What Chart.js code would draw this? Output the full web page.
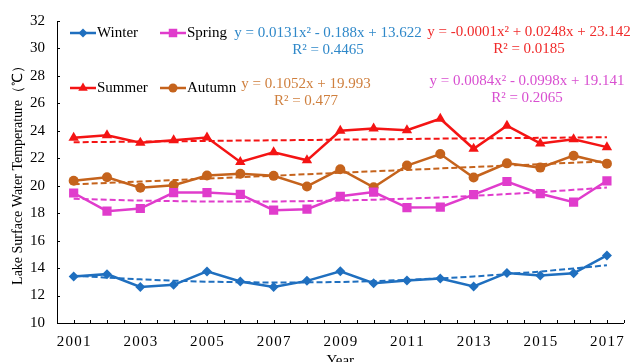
<!DOCTYPE html>
<html lang="en">
<head>
<meta charset="UTF-8">
<title>Lake Surface Water Temperature</title>
<script src="https://cdn.jsdelivr.net/npm/chart.js"></script>
<style>
  html, body { margin: 0; padding: 0; background: #fff; }
  #wrap { position: relative; width: 634px; height: 362px; }
</style>
</head>
<body>
<div id="wrap"><canvas id="tempChart"></canvas></div>
<script>
// data
const years = ['2001','2002','2003','2004','2005','2006','2007','2008','2009',
               '2010','2011','2012','2013','2014','2015','2016','2017'];
const winter = [13.39, 13.56, 12.63, 12.78, 13.76, 13.02, 12.62, 13.07, 13.77,
                12.90, 13.10, 13.24, 12.66, 13.65, 13.46, 13.62, 14.92];
const spring = [19.47, 18.15, 18.34, 19.50, 19.50, 19.37, 18.22, 18.29, 19.23,
                19.54, 18.41, 18.44, 19.35, 20.31, 19.42, 18.80, 20.36];
const summer = [23.49, 23.68, 23.13, 23.32, 23.51, 21.73, 22.43, 21.85, 24.00,
                24.16, 24.05, 24.88, 22.69, 24.37, 23.08, 23.39, 22.81];
const autumn = [20.36, 20.62, 19.86, 20.04, 20.74, 20.87, 20.72, 19.95, 21.20,
                19.88, 21.47, 22.31, 20.60, 21.63, 21.32, 22.19, 21.61];

// dashed trend lines as they appear in the figure
const winterTrend = [13.45, 13.30, 13.18, 13.08, 13.01, 12.97, 12.95, 12.96, 12.99,
                     13.05, 13.14, 13.25, 13.39, 13.56, 13.75, 13.97, 14.21];
const springTrend = [19.05, 18.98, 18.92, 18.88, 18.85, 18.85, 18.85, 18.88, 18.92,
                     18.98, 19.06, 19.15, 19.26, 19.39, 19.53, 19.70, 19.87];
const summerTrend = [23.17, 23.19, 23.22, 23.24, 23.26, 23.29, 23.31, 23.33, 23.36,
                     23.38, 23.40, 23.43, 23.45, 23.47, 23.49, 23.51, 23.54];
const autumnTrend = [20.10, 20.20, 20.31, 20.41, 20.52, 20.62, 20.73, 20.84, 20.94,
                     21.05, 21.15, 21.26, 21.36, 21.47, 21.57, 21.68, 21.78];

const seriesNames = ['Winter', 'Spring', 'Summer', 'Autumn'];
const equations = ['y = 0.0131x² - 0.188x + 13.622', 'y = 0.0084x² - 0.0998x + 19.141',
                   'y = -0.0001x² + 0.0248x + 23.142', 'y = 0.1052x + 19.993'];
const rSquared = ['R² = 0.4465', 'R² = 0.2065', 'R² = 0.0185', 'R² = 0.477'];

const SERIF = "'Liberation Serif', 'Times New Roman', serif";
const colors = ['#1f6fbf', '#e03ccc', '#f41414', '#c5631c'];
const eqColors = ['#2f88c9', '#d84fd0', '#f02a2a', '#cf7f3d'];
const markers = [
  { style: 'rectRot', r: 5 },
  { style: 'rect', r: 6.5 },
  { style: 'triangle', r: 6 },
  { style: 'circle', r: 5 }
];

const values = [winter, spring, summer, autumn];
const trends = [winterTrend, springTrend, summerTrend, autumnTrend];

const datasets = [];
values.forEach((v, i) => {
  datasets.push({
    label: seriesNames[i],
    data: v,
    borderColor: colors[i],
    backgroundColor: colors[i],
    borderWidth: 2.5,
    pointStyle: markers[i].style,
    pointRadius: markers[i].r,
    pointBorderWidth: 0,
    order: 1
  });
});
trends.forEach((v, i) => {
  datasets.push({
    label: seriesNames[i] + ' trend',
    data: v,
    borderColor: colors[i],
    borderWidth: 2,
    borderDash: [6, 3],
    pointRadius: 0,
    order: 2
  });
});

// small inward ticks on both axes
const tickMarks = {
  id: 'tickMarks',
  afterDraw(chart) {
    const { ctx } = chart;
    const x = chart.scales.x, y = chart.scales.y;
    ctx.save();
    ctx.strokeStyle = '#000';
    ctx.lineWidth = 1;
    ctx.beginPath();
    y.ticks.forEach(t => {
      const py = Math.round(y.getPixelForValue(t.value)) + 0.5;
      ctx.moveTo(y.right, py);
      ctx.lineTo(y.right + 3, py);
    });
    for (let i = -0.5; i <= years.length - 0.5; i += 0.5) {
      const px = Math.round(x.getPixelForValue(i)) + 0.5;
      ctx.moveTo(px, x.top);
      ctx.lineTo(px, x.top - 3);
    }
    ctx.stroke();
    ctx.restore();
  }
};

// legend in two rows and the fitted equations
const legendSpots = [{ x: 70, y: 33 }, { x: 160, y: 33 }, { x: 70, y: 88 }, { x: 160, y: 88 }];
const eqSpots = [{ x: 328, y: 33 }, { x: 527, y: 81 }, { x: 529, y: 32 }, { x: 306, y: 84 }];

const annotations = {
  id: 'annotations',
  afterDraw(chart) {
    const { ctx } = chart;
    ctx.save();
    ctx.font = '15px ' + SERIF;
    ctx.textBaseline = 'middle';
    seriesNames.forEach((name, i) => {
      const s = legendSpots[i];
      ctx.strokeStyle = colors[i];
      ctx.lineWidth = 2.5;
      ctx.beginPath();
      ctx.moveTo(s.x, s.y);
      ctx.lineTo(s.x + 26, s.y);
      ctx.stroke();
      ctx.fillStyle = colors[i];
      if (Chart.helpers && Chart.helpers.drawPoint) {
        Chart.helpers.drawPoint(ctx, { pointStyle: markers[i].style, radius: markers[i].r - 0.5, borderWidth: 0, rotation: 0 }, s.x + 13, s.y);
      }
      ctx.fillStyle = '#000';
      ctx.textAlign = 'left';
      ctx.fillText(name, s.x + 27, s.y);
    });
    ctx.textAlign = 'center';
    equations.forEach((eq, i) => {
      const s = eqSpots[i];
      ctx.fillStyle = eqColors[i];
      ctx.fillText(eq, s.x, s.y);
      ctx.fillText(rSquared[i], s.x, s.y + 17);
    });
    ctx.restore();
  }
};

new Chart(document.getElementById('tempChart'), {
  type: 'line',
  data: { labels: years, datasets: datasets },
  options: {
    responsive: true,
    maintainAspectRatio: false,
    animation: false,
    layout: { padding: { top: 18, right: 3, left: 0, bottom: 0 } },
    plugins: {
      legend: { display: false },
      tooltip: { enabled: false }
    },
    scales: {
      x: {
        offset: true,
        grid: { display: false, drawTicks: false },
        border: { display: true, color: '#000', width: 1 },
        ticks: {
          autoSkip: false,
          maxRotation: 0,
          padding: 10,
          color: '#000',
          font: { family: SERIF, size: 15 },
          callback: (val, idx) => idx % 2 === 0 ? years[idx].split('').join('\u200A') : ''
        },
        title: {
          display: true,
          text: 'Year',
          color: '#000',
          font: { family: SERIF, size: 15 },
          padding: { top: 0, bottom: -8 }
        },
        afterFit: (scale) => { scale.height = 39; }
      },
      y: {
        min: 10,
        max: 32,
        grid: { display: false, drawTicks: false },
        border: { display: true, color: '#000', width: 1 },
        ticks: {
          stepSize: 1,
          padding: 12,
          color: '#000',
          font: { family: SERIF, size: 15 },
          callback: (val) => val % 2 === 0 ? val : ''
        },
        title: {
          display: true,
          text: 'Lake Surface Water Temperature（℃）',
          color: '#000',
          font: { family: SERIF, size: 14 },
          padding: 10
        },
        afterFit: (scale) => { scale.width = 57; }
      }
    }
  },
  plugins: [tickMarks, annotations]
});
</script>
</body>
</html>
